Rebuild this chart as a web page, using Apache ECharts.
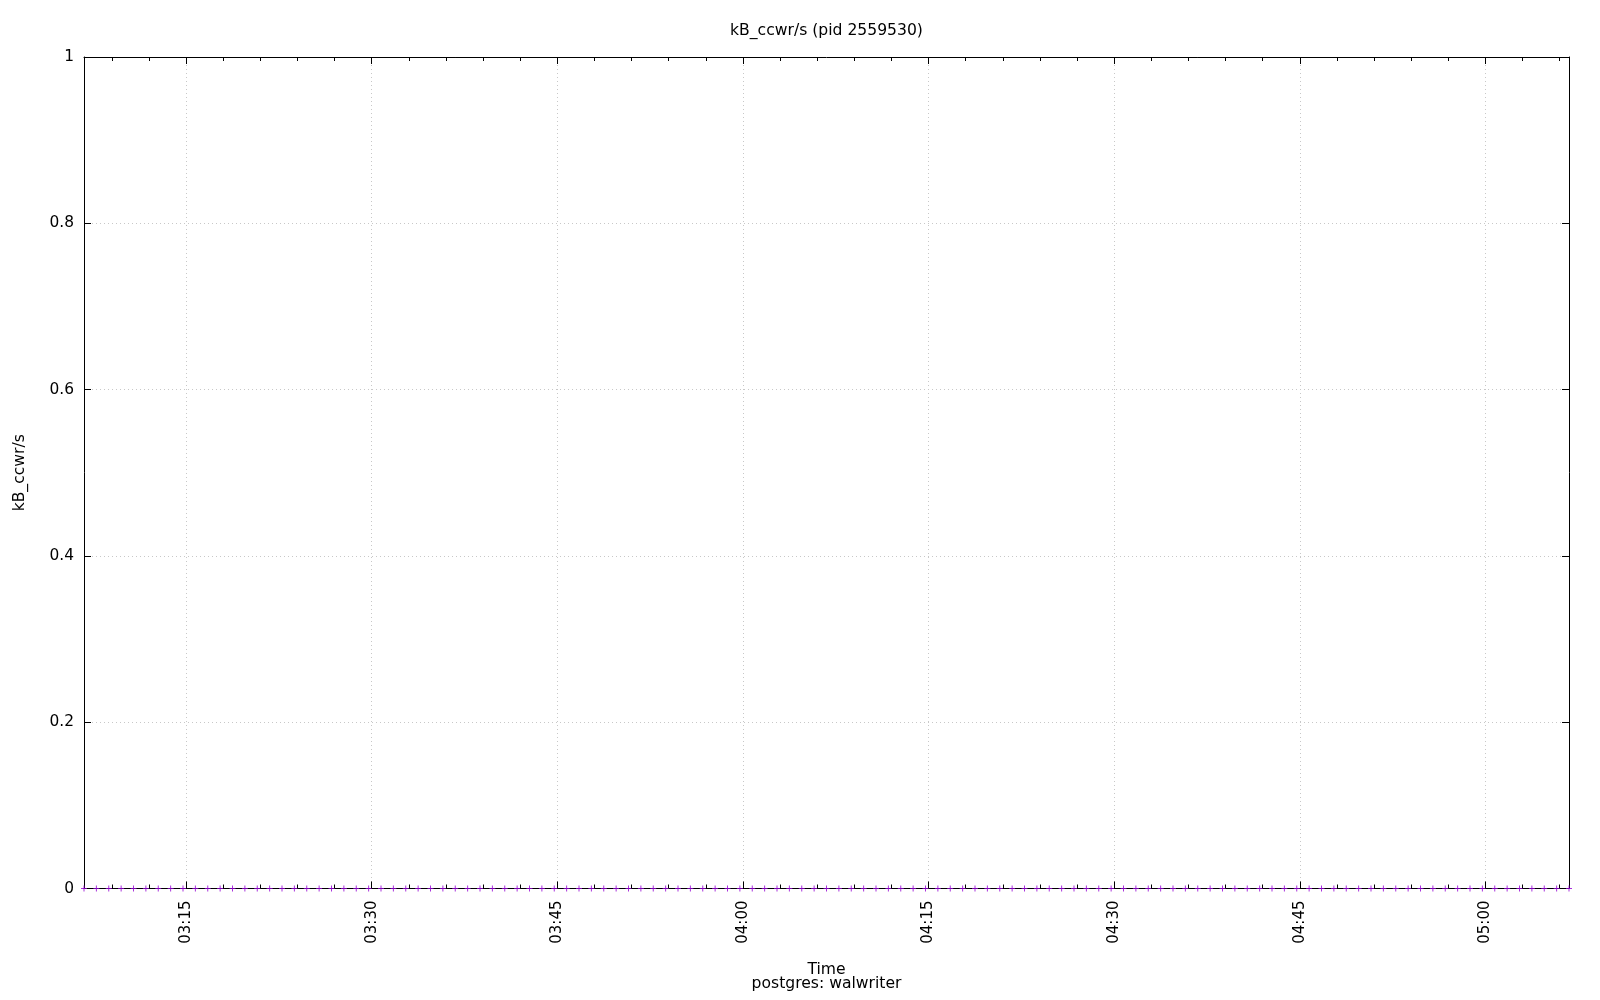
<!DOCTYPE html>
<html>
<head>
<meta charset="utf-8">
<script src="https://cdn.jsdelivr.net/npm/echarts@6/dist/echarts.min.js"></script>
<style>
html,body{margin:0;padding:0;background:#fff;}
#chart{width:1600px;height:1000px;}
</style>
</head>
<body>
<div id="chart"></div>
<script>
// ---- data ----
const chartTitle = "kB_ccwr/s (pid 2559530)";
const yAxisTitle = "kB_ccwr/s";
const xAxisTitle = "Time\npostgres: walwriter";
const timeRange = ["03:06:45", "05:06:45"];
const yTicks = [0, 0.2, 0.4, 0.6, 0.8, 1];
const sampleTimes = [
  "03:06:45","03:07:45","03:08:45","03:09:45","03:10:45","03:11:45","03:12:45","03:13:45","03:14:45","03:15:45",
  "03:16:45","03:17:45","03:18:45","03:19:45","03:20:45","03:21:45","03:22:45","03:23:45","03:24:45","03:25:45",
  "03:26:45","03:27:45","03:28:45","03:29:45","03:30:45","03:31:45","03:32:45","03:33:45","03:34:45","03:35:45",
  "03:36:45","03:37:45","03:38:45","03:39:45","03:40:45","03:41:45","03:42:45","03:43:45","03:44:45","03:45:45",
  "03:46:45","03:47:45","03:48:45","03:49:45","03:50:45","03:51:45","03:52:45","03:53:45","03:54:45","03:55:45",
  "03:56:45","03:57:45","03:58:45","03:59:45","04:00:45","04:01:45","04:02:45","04:03:45","04:04:45","04:05:45",
  "04:06:45","04:07:45","04:08:45","04:09:45","04:10:45","04:11:45","04:12:45","04:13:45","04:14:45","04:15:45",
  "04:16:45","04:17:45","04:18:45","04:19:45","04:20:45","04:21:45","04:22:45","04:23:45","04:24:45","04:25:45",
  "04:26:45","04:27:45","04:28:45","04:29:45","04:30:45","04:31:45","04:32:45","04:33:45","04:34:45","04:35:45",
  "04:36:45","04:37:45","04:38:45","04:39:45","04:40:45","04:41:45","04:42:45","04:43:45","04:44:45","04:45:45",
  "04:46:45","04:47:45","04:48:45","04:49:45","04:50:45","04:51:45","04:52:45","04:53:45","04:54:45","04:55:45",
  "04:56:45","04:57:45","04:58:45","04:59:45","05:00:45","05:01:45","05:02:45","05:03:45","05:04:45","05:05:45",
  "05:06:45"
];
const kBccwr = [
  0,0,0,0,0,0,0,0,0,0,
  0,0,0,0,0,0,0,0,0,0,
  0,0,0,0,0,0,0,0,0,0,
  0,0,0,0,0,0,0,0,0,0,
  0,0,0,0,0,0,0,0,0,0,
  0,0,0,0,0,0,0,0,0,0,
  0,0,0,0,0,0,0,0,0,0,
  0,0,0,0,0,0,0,0,0,0,
  0,0,0,0,0,0,0,0,0,0,
  0,0,0,0,0,0,0,0,0,0,
  0,0,0,0,0,0,0,0,0,0,
  0,0,0,0,0,0,0,0,0,0,
  0
];

// ---- helpers: time -> quarter-hours since midnight ----
function toQ(t) {
  const p = t.split(":").map(Number);
  return (p[0] * 3600 + p[1] * 60 + (p[2] || 0)) / 900;
}
function qLabel(v) {
  const totalMin = Math.round(v * 15);
  const h = Math.floor(totalMin / 60), m = totalMin % 60;
  return String(h).padStart(2, "0") + ":" + String(m).padStart(2, "0");
}

const FONT = "DejaVu Sans";
const xMin = toQ(timeRange[0]), xMax = toQ(timeRange[1]);
const seriesData = sampleTimes.map((t, i) => [toQ(t), kBccwr[i]]);

const gridLine = { show: true, lineStyle: { color: "#c8c8c8", type: [1, 3], width: 1 } };

function xAxisCfg(pos, labels) {
  return {
    type: "value", position: pos, min: xMin, max: xMax,
    splitNumber: 8, minInterval: 1, maxInterval: 1,
    axisLine: { show: true, onZero: false, lineStyle: { color: "#000", width: 1 } },
    axisTick: { show: true, inside: true, length: 7, lineStyle: { color: "#000", width: 1 } },
    minorTick: { show: true, splitNumber: 5, length: 4, lineStyle: { color: "#000", width: 1 } },
    splitLine: labels ? gridLine : { show: false },
    axisLabel: {
      show: labels, rotate: 90, margin: 12, fontSize: 15, fontFamily: FONT, color: "#000",
      showMinLabel: false, showMaxLabel: false, formatter: qLabel
    }
  };
}
function yAxisCfg(pos, labels) {
  return {
    type: "value", position: pos, min: yTicks[0], max: yTicks[yTicks.length - 1],
    interval: yTicks[1] - yTicks[0],
    axisLine: { show: true, onZero: false, lineStyle: { color: "#000", width: 1 } },
    axisTick: { show: true, inside: true, length: 7, lineStyle: { color: "#000", width: 1 } },
    splitLine: labels ? gridLine : { show: false },
    axisLabel: {
      show: labels, margin: 10, fontSize: 15.4, fontFamily: FONT, color: "#000",
      formatter: v => String(+v.toFixed(1))
    }
  };
}

const xBottom = xAxisCfg("bottom", true);
xBottom.name = xAxisTitle;
xBottom.nameLocation = "middle";
xBottom.nameGap = 74;
xBottom.nameMoveOverlap = false;
xBottom.nameTextStyle = { fontSize: 15.6, fontFamily: FONT, color: "#000", lineHeight: 14.5 };

const yLeft = yAxisCfg("left", true);
yLeft.name = yAxisTitle;
yLeft.nameLocation = "middle";
yLeft.nameGap = 56;
yLeft.nameMoveOverlap = false;
yLeft.nameTextStyle = { fontSize: 15.6, fontFamily: FONT, color: "#000" };

const chart = echarts.init(document.getElementById("chart"), null, { renderer: "canvas" });
chart.setOption({
  animation: false,
  backgroundColor: "#fff",
  title: {
    text: chartTitle, left: 821.5, top: 18, textAlign: "center",
    textStyle: { fontSize: 15.6, fontWeight: "normal", fontFamily: FONT, color: "#000" }
  },
  grid: { left: 84, right: 31, top: 57, bottom: 111.5, containLabel: false, outerBoundsMode: "none" },
  xAxis: [xBottom, xAxisCfg("top", false)],
  yAxis: [yLeft, yAxisCfg("right", false)],
  series: [{
    type: "scatter", xAxisIndex: 0, yAxisIndex: 0, data: seriesData, clip: false,
    symbol: "path://M0,4L8,4M4,0L4,8", symbolSize: 6,
    itemStyle: { color: "#9400d3", borderColor: "#9400d3", borderWidth: 1 },
    z: 1
  }]
});
</script>
</body>
</html>
